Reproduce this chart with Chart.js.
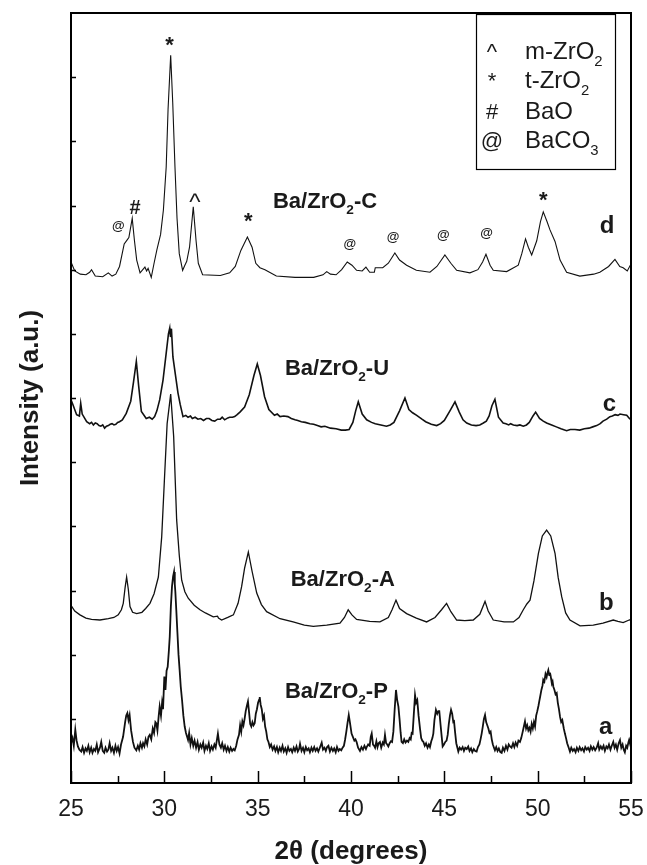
<!DOCTYPE html>
<html>
<head>
<meta charset="utf-8">
<script src="https://cdn.jsdelivr.net/npm/chart.js@4.4.1/dist/chart.umd.min.js"></script>
<style>
  body { margin: 0; background: #fff; }
  canvas { display: block; }
</style>
</head>
<body>
<canvas id="xrd" width="647" height="865"></canvas>
<script>
// x: 2-theta (degrees), y: stacked intensity (a.u.)
const xTicks = [25, 30, 35, 40, 45, 50, 55];

const patternP = [
  [25.00,0.62],[25.08,0.70],[25.15,0.58],[25.23,0.83],[25.30,0.66],[25.37,0.57],[25.45,0.52],[25.55,0.49],[25.62,0.56],[25.70,0.47],
  [25.78,0.54],[25.85,0.50],[25.93,0.58],[26.00,0.48],[26.08,0.55],[26.15,0.47],[26.23,0.53],[26.30,0.50],[26.38,0.60],[26.45,0.48],
  [26.55,0.55],[26.62,0.64],[26.70,0.50],[26.78,0.47],[26.85,0.55],[26.93,0.49],[27.00,0.52],[27.07,0.62],[27.15,0.50],[27.22,0.55],
  [27.30,0.47],[27.38,0.58],[27.45,0.50],[27.52,0.56],[27.60,0.46],[27.68,0.60],[27.79,0.72],[27.90,0.95],[27.96,1.05],[28.02,1.09],
  [28.08,0.98],[28.14,1.06],[28.22,0.82],[28.32,0.64],[28.40,0.55],[28.50,0.51],[28.58,0.58],[28.65,0.52],[28.72,0.62],[28.80,0.55],
  [28.86,0.62],[28.93,0.57],[29.00,0.68],[29.08,0.60],[29.15,0.72],[29.22,0.75],[29.30,0.68],[29.38,0.85],[29.45,0.78],[29.52,0.95],
  [29.57,0.93],[29.63,0.82],[29.70,1.05],[29.75,1.19],[29.82,1.05],[29.88,1.25],[29.93,1.15],[30.00,1.66],[30.06,1.45],[30.12,1.75],
  [30.18,1.81],[30.24,2.05],[30.29,2.28],[30.35,2.75],[30.41,3.06],[30.47,3.22],[30.52,3.29],[30.56,3.10],[30.59,2.98],[30.64,2.70],
  [30.70,2.35],[30.76,2.00],[30.82,1.76],[30.88,1.50],[30.95,1.29],[31.02,1.05],[31.09,0.88],[31.16,0.78],[31.22,0.72],[31.27,0.67],
  [31.33,0.78],[31.40,0.60],[31.47,0.70],[31.55,0.58],[31.62,0.66],[31.70,0.55],[31.78,0.64],[31.85,0.52],[31.93,0.60],[32.00,0.55],
  [32.08,0.63],[32.15,0.50],[32.23,0.58],[32.30,0.53],[32.38,0.62],[32.45,0.50],[32.53,0.57],[32.60,0.52],[32.68,0.60],[32.75,0.55],
  [32.87,0.77],[32.95,0.60],[33.03,0.55],[33.10,0.62],[33.18,0.52],[33.25,0.58],[33.33,0.50],[33.40,0.56],[33.48,0.49],[33.55,0.55],
  [33.63,0.50],[33.70,0.53],[33.77,0.51],[33.85,0.58],[33.92,0.68],[34.00,0.75],[34.06,0.90],[34.12,0.80],[34.18,0.96],[34.24,0.90],
  [34.30,1.00],[34.36,1.12],[34.42,1.20],[34.48,1.27],[34.54,1.10],[34.60,0.92],[34.66,0.88],[34.72,0.95],[34.78,0.90],[34.84,0.93],
  [34.90,1.08],[34.96,1.15],[35.02,1.25],[35.08,1.30],[35.11,1.34],[35.16,1.22],[35.22,1.15],[35.28,1.00],[35.34,1.05],[35.40,0.88],
  [35.46,0.80],[35.52,0.68],[35.58,0.64],[35.65,0.56],[35.72,0.60],[35.80,0.52],[35.88,0.57],[35.95,0.50],[36.03,0.56],[36.10,0.48],
  [36.18,0.55],[36.25,0.50],[36.33,0.58],[36.40,0.49],[36.48,0.54],[36.55,0.47],[36.63,0.56],[36.70,0.50],[36.78,0.53],[36.85,0.48],
  [36.93,0.55],[37.00,0.50],[37.08,0.57],[37.15,0.49],[37.22,0.53],[37.27,0.61],[37.35,0.50],[37.43,0.55],[37.50,0.48],[37.58,0.56],
  [37.65,0.51],[37.73,0.54],[37.80,0.48],[37.88,0.55],[37.95,0.50],[38.03,0.56],[38.10,0.50],[38.18,0.54],[38.25,0.49],[38.33,0.55],
  [38.43,0.63],[38.50,0.52],[38.58,0.55],[38.65,0.50],[38.72,0.56],[38.79,0.58],[38.87,0.49],[38.95,0.55],[39.03,0.50],[39.10,0.54],
  [39.18,0.48],[39.25,0.56],[39.33,0.50],[39.40,0.53],[39.48,0.51],[39.55,0.55],[39.62,0.58],[39.68,0.67],[39.75,0.80],[39.82,0.95],
  [39.88,1.06],[39.94,0.95],[40.03,0.77],[40.10,0.72],[40.18,0.66],[40.24,0.68],[40.30,0.64],[40.38,0.55],[40.48,0.50],[40.56,0.56],
  [40.64,0.52],[40.72,0.58],[40.80,0.53],[40.84,0.56],[40.92,0.60],[41.00,0.58],[41.06,0.72],[41.11,0.77],[41.18,0.60],[41.24,0.58],
  [41.29,0.55],[41.36,0.65],[41.42,0.56],[41.48,0.62],[41.55,0.64],[41.62,0.55],[41.70,0.63],[41.76,0.60],[41.82,0.75],[41.88,0.62],
  [41.94,0.60],[42.00,0.57],[42.07,0.62],[42.14,0.65],[42.20,0.64],[42.27,0.80],[42.34,1.15],[42.41,1.45],[42.47,1.30],[42.54,1.19],
  [42.60,1.00],[42.66,0.78],[42.71,0.64],[42.78,0.62],[42.85,0.68],[42.92,0.63],[43.00,0.66],[43.07,0.64],[43.14,0.70],[43.20,0.68],
  [43.25,0.78],[43.30,0.77],[43.36,1.05],[43.43,1.37],[43.49,1.25],[43.55,1.29],[43.62,1.05],[43.70,0.84],[43.76,0.70],[43.82,0.66],
  [43.88,0.64],[43.95,0.58],[44.02,0.62],[44.10,0.55],[44.17,0.60],[44.23,0.56],[44.30,0.65],[44.36,0.70],[44.41,0.77],[44.47,0.98],
  [44.55,1.14],[44.62,1.08],[44.68,1.12],[44.73,1.12],[44.80,0.90],[44.86,0.72],[44.91,0.57],[44.98,0.60],[45.05,0.64],[45.12,0.66],
  [45.18,0.75],[45.24,0.92],[45.30,1.05],[45.36,1.14],[45.42,1.08],[45.48,0.95],[45.52,0.96],[45.58,0.78],[45.64,0.62],[45.70,0.55],
  [45.75,0.49],[45.82,0.55],[45.90,0.52],[45.98,0.56],[46.05,0.50],[46.12,0.55],[46.20,0.53],[46.28,0.57],[46.35,0.50],[46.43,0.54],
  [46.50,0.48],[46.58,0.53],[46.65,0.50],[46.73,0.49],[46.80,0.56],[46.88,0.60],[46.94,0.68],[47.00,0.77],[47.06,0.88],[47.12,1.00],
  [47.18,1.06],[47.24,0.95],[47.30,0.90],[47.36,0.85],[47.42,0.78],[47.48,0.80],[47.54,0.68],[47.60,0.60],[47.66,0.55],[47.71,0.51],
  [47.78,0.56],[47.85,0.50],[47.92,0.54],[48.00,0.48],[48.07,0.47],[48.14,0.55],[48.22,0.50],[48.30,0.58],[48.38,0.52],[48.45,0.60],
  [48.52,0.57],[48.60,0.55],[48.68,0.62],[48.75,0.56],[48.82,0.63],[48.90,0.58],[48.97,0.66],[49.05,0.64],[49.12,0.70],[49.20,0.80],
  [49.26,0.88],[49.32,0.96],[49.38,0.85],[49.44,0.90],[49.50,0.82],[49.56,0.86],[49.62,0.80],[49.68,0.92],[49.74,0.85],[49.80,0.95],
  [49.86,0.88],[49.92,1.05],[49.98,1.12],[50.04,1.20],[50.09,1.28],[50.13,1.34],[50.20,1.45],[50.26,1.52],[50.30,1.61],[50.36,1.58],
  [50.42,1.70],[50.48,1.65],[50.53,1.72],[50.57,1.76],[50.62,1.68],[50.66,1.72],[50.70,1.66],[50.76,1.55],[50.80,1.58],[50.84,1.50],
  [50.90,1.45],[50.96,1.38],[51.02,1.40],[51.08,1.25],[51.14,1.15],[51.20,1.03],[51.26,0.95],[51.32,0.98],[51.40,0.85],[51.46,0.77],
  [51.52,0.70],[51.58,0.62],[51.65,0.56],[51.73,0.49],[51.80,0.55],[51.88,0.50],[51.95,0.53],[52.03,0.48],[52.10,0.55],[52.18,0.50],
  [52.25,0.56],[52.33,0.51],[52.40,0.54],[52.48,0.49],[52.55,0.56],[52.63,0.52],[52.70,0.55],[52.78,0.50],[52.85,0.57],[52.93,0.52],
  [53.00,0.56],[53.08,0.51],[53.16,0.55],[53.24,0.62],[53.30,0.52],[53.38,0.57],[53.45,0.53],[53.53,0.58],[53.60,0.50],[53.68,0.57],
  [53.75,0.54],[53.82,0.60],[53.90,0.52],[53.97,0.58],[54.05,0.64],[54.12,0.55],[54.19,0.60],[54.26,0.52],[54.34,0.62],[54.41,0.67],
  [54.48,0.55],[54.55,0.60],[54.61,0.52],[54.67,0.48],[54.74,0.58],[54.80,0.55],[54.86,0.63],[54.90,0.67],[54.96,0.60],[55.00,0.72]
];

const patternA = [
  [25.00,2.77],[25.20,2.68],[25.48,2.62],[25.80,2.57],[26.10,2.55],[26.55,2.54],[27.00,2.56],[27.30,2.58],[27.53,2.62],[27.70,2.70],
  [27.80,2.80],[27.90,3.05],[27.98,3.21],[28.07,3.02],[28.16,2.75],[28.30,2.66],[28.52,2.64],[28.80,2.66],[29.00,2.72],[29.23,2.80],
  [29.45,2.95],[29.68,3.21],[29.86,3.84],[30.00,4.70],[30.15,5.60],[30.34,6.06],[30.50,5.40],[30.66,4.10],[30.80,3.55],[30.93,3.16],
  [31.10,2.98],[31.28,2.88],[31.60,2.77],[31.91,2.70],[32.20,2.65],[32.62,2.59],[32.85,2.60],[32.90,2.57],[33.07,2.54],[33.40,2.58],
  [33.70,2.62],[33.95,2.80],[34.14,3.06],[34.30,3.35],[34.50,3.60],[34.70,3.30],[34.95,2.96],[35.20,2.78],[35.48,2.67],[36.20,2.56],
  [36.90,2.51],[37.50,2.46],[37.98,2.44],[38.70,2.46],[39.41,2.49],[39.65,2.58],[39.85,2.70],[40.05,2.62],[40.30,2.55],[41.00,2.52],
  [41.55,2.51],[42.00,2.58],[42.20,2.70],[42.41,2.85],[42.60,2.72],[42.98,2.64],[43.50,2.57],[44.05,2.51],[44.50,2.58],[44.85,2.70],
  [45.12,2.80],[45.35,2.67],[45.66,2.54],[46.10,2.53],[46.55,2.54],[46.90,2.63],[47.18,2.83],[47.35,2.68],[47.62,2.54],[48.20,2.51],
  [48.70,2.51],[49.00,2.58],[49.23,2.70],[49.42,2.79],[49.59,2.85],[49.80,3.15],[50.04,3.58],[50.25,3.85],[50.48,3.94],[50.70,3.85],
  [50.93,3.58],[51.10,3.20],[51.29,2.90],[51.50,2.65],[51.73,2.54],[52.27,2.45],[52.98,2.46],[53.50,2.49],[54.05,2.54],[54.30,2.52],
  [54.58,2.50],[54.90,2.54],[55.00,2.55]
];

const patternU = [
  [25.00,5.97],[25.10,5.90],[25.30,5.74],[25.45,5.72],[25.52,5.92],[25.60,5.75],[25.84,5.63],[26.00,5.60],[26.10,5.62],[26.20,5.58],
  [26.30,5.61],[26.40,5.60],[26.50,5.57],[26.60,5.56],[26.70,5.58],[26.80,5.53],[26.90,5.56],[27.00,5.57],[27.10,5.59],[27.20,5.60],
  [27.30,5.58],[27.40,5.59],[27.50,5.62],[27.60,5.63],[27.75,5.66],[27.96,5.76],[28.20,5.95],[28.35,6.25],[28.50,6.57],[28.62,6.20],
  [28.77,5.79],[29.03,5.68],[29.20,5.70],[29.35,5.67],[29.48,5.71],[29.60,5.80],[29.75,5.97],[29.93,6.28],[30.10,6.70],[30.22,7.00],
  [30.29,7.09],[30.33,6.95],[30.38,7.08],[30.46,6.64],[30.60,6.35],[30.73,6.08],[30.85,5.90],[31.00,5.71],[31.15,5.73],[31.27,5.70],
  [31.40,5.72],[31.50,5.68],[31.65,5.70],[31.80,5.67],[31.95,5.68],[32.10,5.65],[32.25,5.68],[32.40,5.68],[32.55,5.65],[32.70,5.64],
  [32.85,5.67],[33.00,5.67],[33.10,5.70],[33.23,5.66],[33.40,5.69],[33.50,5.70],[33.65,5.70],[33.77,5.71],[33.90,5.74],[34.05,5.78],
  [34.30,5.86],[34.55,6.05],[34.80,6.35],[34.98,6.53],[35.15,6.35],[35.37,6.02],[35.60,5.82],[35.90,5.73],[36.05,5.75],[36.20,5.71],
  [36.40,5.72],[36.62,5.71],[36.80,5.68],[37.00,5.66],[37.15,5.65],[37.34,5.63],[37.55,5.62],[37.80,5.60],[38.00,5.59],[38.20,5.57],
  [38.40,5.55],[38.60,5.56],[38.90,5.53],[39.20,5.52],[39.48,5.50],[39.70,5.50],[39.90,5.51],[40.10,5.62],[40.25,5.80],[40.39,5.94],
  [40.60,5.75],[40.84,5.66],[41.10,5.62],[41.30,5.60],[41.60,5.58],[41.90,5.56],[42.10,5.58],[42.30,5.62],[42.60,5.80],[42.89,6.00],
  [43.10,5.82],[43.30,5.77],[43.52,5.73],[43.80,5.67],[44.00,5.63],[44.30,5.59],[44.59,5.57],[44.80,5.60],[45.00,5.65],[45.30,5.80],
  [45.57,5.94],[45.80,5.78],[46.00,5.66],[46.20,5.61],[46.45,5.58],[46.70,5.57],[46.90,5.58],[47.09,5.61],[47.25,5.64],[47.40,5.72],
  [47.55,5.88],[47.71,5.98],[47.90,5.70],[48.15,5.61],[48.30,5.60],[48.45,5.58],[48.55,5.60],[48.70,5.58],[48.90,5.57],[49.05,5.58],
  [49.23,5.56],[49.40,5.58],[49.55,5.62],[49.75,5.72],[49.89,5.78],[50.10,5.68],[50.30,5.64],[50.48,5.61],[50.75,5.58],[51.00,5.55],
  [51.25,5.52],[51.55,5.49],[51.75,5.51],[52.00,5.51],[52.25,5.50],[52.50,5.52],[52.75,5.53],[52.95,5.55],[53.16,5.57],[53.35,5.60],
  [53.50,5.64],[53.70,5.67],[53.87,5.71],[54.00,5.72],[54.15,5.74],[54.30,5.73],[54.41,5.75],[54.60,5.74],[54.77,5.73],[54.95,5.67]
];

const patternC = [
  [25.00,8.12],[25.20,7.98],[25.50,7.93],[25.80,7.92],[26.00,7.96],[26.10,8.00],[26.30,7.90],[26.70,7.89],[27.00,7.95],[27.20,7.90],
  [27.40,7.93],[27.60,8.05],[27.85,8.40],[28.00,8.46],[28.10,8.50],[28.28,8.80],[28.40,8.45],[28.52,8.15],[28.70,7.95],[28.96,8.04],
  [29.05,7.98],[29.13,8.02],[29.30,7.88],[29.45,8.10],[29.60,8.31],[29.80,8.55],[29.95,8.93],[30.10,9.60],[30.20,10.50],[30.34,11.34],
  [30.45,10.60],[30.57,9.60],[30.68,8.80],[30.80,8.25],[30.98,7.99],[31.10,8.07],[31.20,8.13],[31.35,8.35],[31.55,8.98],[31.70,8.45],
  [31.82,8.10],[32.05,7.92],[33.00,7.91],[33.50,7.95],[33.80,8.05],[34.10,8.30],[34.45,8.51],[34.70,8.35],[34.90,8.10],[35.12,8.03],
  [35.39,8.00],[36.00,7.90],[37.00,7.88],[38.00,7.88],[38.50,7.92],[38.70,7.97],[38.90,7.93],[39.20,7.92],[39.50,8.00],[39.80,8.12],
  [40.05,8.07],[40.30,7.99],[40.60,7.98],[40.80,8.04],[41.00,7.96],[41.25,7.96],[41.30,8.03],[41.70,8.03],[42.00,8.10],[42.35,8.26],
  [42.60,8.15],[42.98,8.07],[43.50,7.99],[44.23,7.96],[44.60,8.05],[45.03,8.23],[45.35,8.10],[45.66,7.99],[46.37,7.95],[46.80,8.00],
  [47.05,8.12],[47.23,8.24],[47.45,8.07],[47.62,7.99],[48.34,7.97],[48.96,8.07],[49.15,8.25],[49.35,8.48],[49.50,8.35],[49.68,8.23],
  [49.95,8.45],[50.15,8.75],[50.30,8.90],[50.50,8.75],[50.66,8.62],[50.93,8.44],[51.20,8.15],[51.55,7.96],[52.26,7.90],[53.00,7.93],
  [53.33,7.96],[53.80,8.05],[54.14,8.16],[54.40,8.05],[54.58,8.03],[54.80,7.98],[55.00,8.09]
];

// sample names and trace letters, placed in data units (2-theta, intensity)
const sampleLabels = [
  { parts: ['Ba/ZrO', '_2', '-C'], x: 35.82, y: 8.96 },
  { parts: ['Ba/ZrO', '_2', '-U'], x: 36.46, y: 6.36 },
  { parts: ['Ba/ZrO', '_2', '-A'], x: 36.77, y: 3.07 },
  { parts: ['Ba/ZrO', '_2', '-P'], x: 36.46, y: 1.32 }
];
const traceLetters = [
  { t: 'd', x: 53.33, y: 8.57 },
  { t: 'c', x: 53.49, y: 5.80 },
  { t: 'b', x: 53.28, y: 2.69 },
  { t: 'a', x: 53.28, y: 0.76 }
];
// phase markers above the peaks of trace d
const peakMarks = [
  { t: '@', x: 27.53, y: 8.67 },
  { t: '#', x: 28.43, y: 8.96 },
  { t: '*', x: 30.28, y: 11.55 },
  { t: '^', x: 31.64, y: 9.11 },
  { t: '*', x: 34.50, y: 8.80 },
  { t: '@', x: 39.94, y: 8.40 },
  { t: '@', x: 42.26, y: 8.51 },
  { t: '@', x: 44.94, y: 8.54 },
  { t: '@', x: 47.27, y: 8.57 },
  { t: '*', x: 50.30, y: 9.13 }
];
const legendRows = [
  { sym: '^', parts: ['m-ZrO', '_2'] },
  { sym: '*', parts: ['t-ZrO', '_2'] },
  { sym: '#', parts: ['BaO'] },
  { sym: '@', parts: ['BaCO', '_3'] }
];

const FONT = '"Liberation Sans", Arial, Helvetica, sans-serif';
const INK = '#1a1a1a';

function drawRich(ctx, parts, x, y, size, weight) {
  let cx = x;
  parts.forEach(p => {
    let txt = p, dy = 0, fs = size;
    if (p[0] === '_') { txt = p.slice(1); fs = size * 0.62; dy = size * 0.28; }
    ctx.font = weight + ' ' + fs + 'px ' + FONT;
    ctx.fillText(txt, cx, y + dy);
    cx += ctx.measureText(txt).width;
  });
}

const decor = {
  id: 'decor',
  afterDatasetsDraw(chart) {
    const ctx = chart.ctx, a = chart.chartArea;
    const xs = chart.scales.x, ys = chart.scales.y;
    ctx.save();
    ctx.strokeStyle = '#000';
    ctx.fillStyle = INK;

    // inner tick marks
    ctx.lineWidth = 1.5;
    ctx.beginPath();
    for (let v = 25; v <= 55; v += 2.5) {
      const px = Math.round(xs.getPixelForValue(v)) + 0.5;
      const len = (v % 5 === 0) ? 12 : 7;
      ctx.moveTo(px, a.bottom); ctx.lineTo(px, a.bottom - len);
    }
    for (let v = 1; v < 12; v++) {
      const py = Math.round(ys.getPixelForValue(v)) + 0.5;
      ctx.moveTo(a.left, py); ctx.lineTo(a.left + 5, py);
    }
    ctx.stroke();

    // frame
    ctx.lineWidth = 2;
    ctx.strokeRect(a.left, a.top, a.right - a.left, a.bottom - a.top);

    // sample labels
    ctx.textAlign = 'left';
    ctx.textBaseline = 'alphabetic';
    sampleLabels.forEach(l => {
      drawRich(ctx, l.parts, xs.getPixelForValue(l.x), ys.getPixelForValue(l.y), 22, 'bold');
    });
    traceLetters.forEach(l => {
      ctx.font = 'bold 24px ' + FONT;
      ctx.fillText(l.t, xs.getPixelForValue(l.x), ys.getPixelForValue(l.y));
    });

    // peak markers
    ctx.textAlign = 'center';
    ctx.textBaseline = 'middle';
    peakMarks.forEach(m => {
      let f = 'bold 22px ';
      if (m.t === '@') f = 'bold 13px ';
      if (m.t === '#') f = 'bold 20px ';
      if (m.t === '^') f = '24px ';
      ctx.font = f + FONT;
      const yOff = m.t === '*' ? 4 : (m.t === '^' ? 5 : 0);
      ctx.fillText(m.t, xs.getPixelForValue(m.x), ys.getPixelForValue(m.y) + yOff);
    });

    // legend box
    const bx = a.right - 155, by = a.top + 1, bw = 139, bh = 155;
    ctx.lineWidth = 1.2;
    ctx.strokeRect(bx + 0.5, by + 0.5, bw, bh);
    ctx.textBaseline = 'alphabetic';
    const baselines = [45, 74, 105, 134];
    legendRows.forEach((r, i) => {
      ctx.textAlign = 'center';
      ctx.font = '22px ' + FONT;
      ctx.fillText(r.sym, bx + 16, by + baselines[i]);
      ctx.textAlign = 'left';
      drawRich(ctx, r.parts, bx + 49, by + baselines[i], 24, 'normal');
    });
    ctx.restore();
  }
};

const lineStyle = (data, w) => ({
  data: data.map(p => ({ x: p[0], y: p[1] })),
  borderColor: '#111',
  borderWidth: w,
  pointRadius: 0,
  tension: 0,
  fill: false
});

new Chart(document.getElementById('xrd'), {
  type: 'line',
  data: {
    datasets: [
      lineStyle(patternP, 1.8),
      lineStyle(patternA, 1.3),
      lineStyle(patternU, 1.6),
      lineStyle(patternC, 1.1)
    ]
  },
  options: {
    responsive: false,
    animation: false,
    devicePixelRatio: 1,
    layout: { padding: { top: 13, right: 16, left: 0, bottom: 0 } },
    plugins: { legend: { display: false }, tooltip: { enabled: false } },
    scales: {
      x: {
        type: 'linear',
        min: 25, max: 55,
        afterBuildTicks: s => { s.ticks = xTicks.map(v => ({ value: v })); },
        afterFit: s => { s.height = 82; s.paddingLeft = 0; s.paddingRight = 0; },
        grid: { display: false },
        border: { display: false },
        ticks: { color: INK, padding: 5, maxRotation: 0, font: { family: FONT, size: 23 } },
        title: {
          display: true,
          text: '2θ (degrees)',
          color: INK,
          padding: { top: 0, bottom: 0 },
          font: { family: FONT, size: 26, weight: 'bold', lineHeight: 1 }
        }
      },
      y: {
        min: 0, max: 12,
        afterFit: s => { s.width = 71; s.paddingTop = 0; s.paddingBottom = 0; },
        grid: { display: false },
        border: { display: false },
        ticks: { display: false, stepSize: 1 },
        title: {
          display: true,
          text: 'Intensity (a.u.)',
          color: INK,
          padding: { top: 18, bottom: 0 },
          font: { family: FONT, size: 26, weight: 'bold', lineHeight: 1 }
        }
      }
    }
  },
  plugins: [decor]
});
</script>
</body>
</html>
